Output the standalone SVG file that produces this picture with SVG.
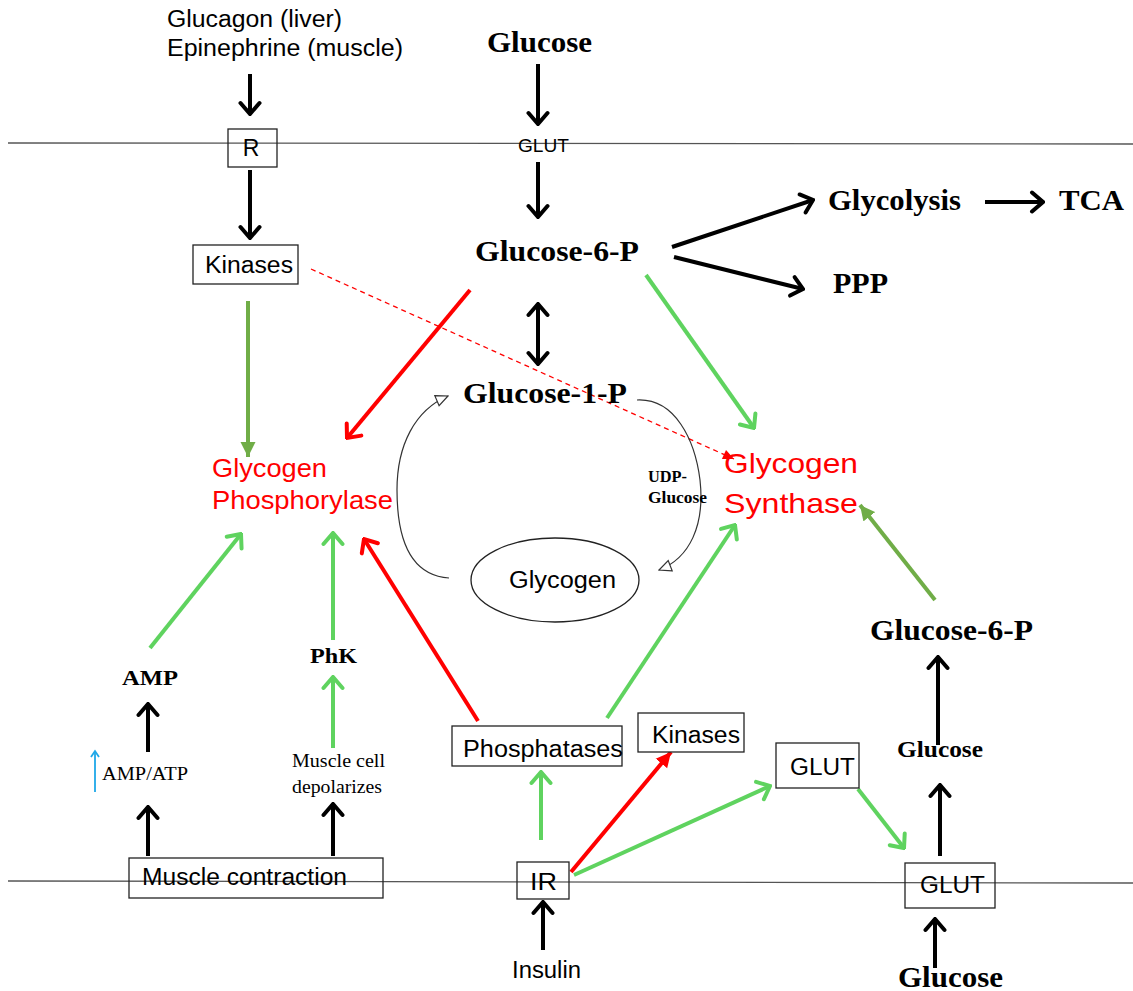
<svg xmlns="http://www.w3.org/2000/svg" width="1133" height="991" viewBox="0 0 1133 991">
<style>
.sans{font-family:"Liberation Sans",Arial,sans-serif;fill:#000}
.serif{font-family:"Liberation Serif","Times New Roman",serif;fill:#000}
.b{font-weight:bold}
.red{fill:#ff0000}
.box{fill:#fff;stroke:#222;stroke-width:1.3}
.mem{stroke:#555;stroke-width:1.3;fill:none}
.k{stroke:#000;stroke-width:4;fill:none}
.g{stroke:#5fd35f;stroke-width:4;fill:none}
.o{stroke:#70ad47;stroke-width:4;fill:none}
.r{stroke:#ff0000;stroke-width:4;fill:none}
.thin{stroke:#333;stroke-width:1.2;fill:none}
</style>
<defs>
<marker id="chk" viewBox="-14 -12 16 24" markerWidth="16" markerHeight="24" refX="0" refY="0" markerUnits="userSpaceOnUse" orient="auto-start-reverse"><path d="M-11,-9.5 L0,0 L-11,9.5" fill="none" stroke="#000" stroke-width="4" stroke-linecap="round"/></marker>
<marker id="chg" viewBox="-14 -12 16 24" markerWidth="16" markerHeight="24" refX="0" refY="0" markerUnits="userSpaceOnUse" orient="auto"><path d="M-11,-9.5 L0,0 L-11,9.5" fill="none" stroke="#5fd35f" stroke-width="4" stroke-linecap="round"/></marker>
<marker id="chr" viewBox="-14 -12 16 24" markerWidth="16" markerHeight="24" refX="0" refY="0" markerUnits="userSpaceOnUse" orient="auto"><path d="M-11,-9.5 L0,0 L-11,9.5" fill="none" stroke="#ff0000" stroke-width="4" stroke-linecap="round"/></marker>
<marker id="chb" viewBox="-8 -6 10 12" markerWidth="10" markerHeight="12" refX="0" refY="0" markerUnits="userSpaceOnUse" orient="auto"><path d="M-6,-4 L0,0 L-6,4" fill="none" stroke="#1fa8e8" stroke-width="1.8"/></marker>
<marker id="trr" viewBox="-15 -8 16 16" markerWidth="16" markerHeight="16" refX="0" refY="0" markerUnits="userSpaceOnUse" orient="auto"><path d="M-15,-7.5 L0,0 L-15,7.5 Z" fill="#ff0000"/></marker>
<marker id="tro" viewBox="-15 -8 16 16" markerWidth="16" markerHeight="16" refX="0" refY="0" markerUnits="userSpaceOnUse" orient="auto"><path d="M-15,-7.5 L0,0 L-15,7.5 Z" fill="#70ad47"/></marker>
<marker id="trs" viewBox="-12 -6 13 12" markerWidth="13" markerHeight="12" refX="0" refY="0" markerUnits="userSpaceOnUse" orient="auto"><path d="M-11,-5 L0,0 L-11,5 Z" fill="#ff0000"/></marker>
<marker id="opn" viewBox="-14 -8 15 16" markerWidth="15" markerHeight="16" refX="0" refY="0" markerUnits="userSpaceOnUse" orient="auto"><path d="M-12,-5.5 L0,0 L-12,5.5 Z" fill="#fff" stroke="#333" stroke-width="1.2"/></marker>
</defs>
<rect width="1133" height="991" fill="#fff"/>
<g id="membranes">
<line class="mem" x1="8" y1="143" x2="1133" y2="144"/>
<line class="mem" x1="8" y1="881" x2="1133" y2="883"/>
</g>
<g id="connectors">
<line class="k" x1="250" y1="74" x2="250" y2="114" marker-end="url(#chk)"/>
<line class="k" x1="250" y1="170" x2="250" y2="238" marker-end="url(#chk)"/>
<line class="k" x1="538" y1="64" x2="538" y2="124" marker-end="url(#chk)"/>
<line class="k" x1="538" y1="162" x2="538" y2="217" marker-end="url(#chk)"/>
<line class="k" x1="672" y1="247" x2="813" y2="200" marker-end="url(#chk)"/>
<line class="k" x1="674" y1="257" x2="803" y2="289" marker-end="url(#chk)"/>
<line class="k" x1="985" y1="202" x2="1043" y2="202" marker-end="url(#chk)"/>
<line class="k" x1="538" y1="304" x2="538" y2="364" marker-start="url(#chk)" marker-end="url(#chk)"/>
<line class="r" x1="470" y1="290" x2="347" y2="438" marker-end="url(#chr)"/>
<line class="g" x1="646" y1="275" x2="754" y2="428" marker-end="url(#chg)"/>
<line x1="311" y1="269" x2="734" y2="459" stroke="#ff0000" stroke-width="1.3" stroke-dasharray="5,4" marker-end="url(#trs)"/>
<line class="o" x1="248" y1="301" x2="248" y2="457" marker-end="url(#tro)"/>
<path class="thin" d="M449,578 C405,575 397,530 397,490 C397,445 415,410 448,396" marker-end="url(#opn)"/>
<path class="thin" d="M637,400 C675,398 695,440 700,480 C705,525 690,558 659,570" marker-end="url(#opn)"/>
<line class="g" x1="150" y1="648" x2="241" y2="534" marker-end="url(#chg)"/>
<line class="g" x1="333" y1="640" x2="333" y2="533" marker-end="url(#chg)"/>
<line class="r" x1="478" y1="721" x2="364" y2="539" marker-end="url(#chr)"/>
<line class="g" x1="607" y1="718" x2="735" y2="525" marker-end="url(#chg)"/>
<line class="o" x1="935" y1="600" x2="860" y2="505" marker-end="url(#tro)"/>
<line class="k" x1="148" y1="752" x2="148" y2="704" marker-end="url(#chk)"/>
<line x1="95" y1="792" x2="95" y2="751" stroke="#1fa8e8" stroke-width="1.8" marker-end="url(#chb)"/>
<line class="k" x1="148" y1="856" x2="148" y2="807" marker-end="url(#chk)"/>
<line class="g" x1="333" y1="748" x2="333" y2="677" marker-end="url(#chg)"/>
<line class="k" x1="333" y1="856" x2="333" y2="804" marker-end="url(#chk)"/>
<line class="g" x1="541" y1="840" x2="541" y2="772" marker-end="url(#chg)"/>
<line x1="571" y1="872" x2="671" y2="752" stroke="#ff0000" stroke-width="4" marker-end="url(#trr)"/>
<line class="g" x1="574" y1="875" x2="770" y2="786" marker-end="url(#chg)"/>
<line class="k" x1="543" y1="950" x2="543" y2="902" marker-end="url(#chk)"/>
<line class="g" x1="858" y1="789" x2="904" y2="848" marker-end="url(#chg)"/>
<line class="k" x1="940" y1="856" x2="940" y2="785" marker-end="url(#chk)"/>
<line class="k" x1="938" y1="745" x2="938" y2="657" marker-end="url(#chk)"/>
<line class="k" x1="935" y1="968" x2="935" y2="919" marker-end="url(#chk)"/>
</g>
<g id="hormones"><text class="sans" x="167" y="27" font-size="23" textLength="175" lengthAdjust="spacingAndGlyphs">Glucagon (liver)</text><text class="sans" x="167" y="56" font-size="23" textLength="236" lengthAdjust="spacingAndGlyphs">Epinephrine (muscle)</text></g>
<g id="R"><rect class="box" x="228" y="129" width="49" height="38" fill-opacity="0"/><text class="sans" x="251" y="156" font-size="23" text-anchor="middle">R</text></g>
<g id="kinases-top"><rect class="box" x="193" y="245" width="105" height="39"/><text class="sans" x="205" y="273" font-size="23" textLength="88" lengthAdjust="spacingAndGlyphs">Kinases</text></g>
<g id="glucose-top"><text class="serif b" x="487" y="52" font-size="30" textLength="105" lengthAdjust="spacingAndGlyphs">Glucose</text></g>
<g id="glut-top"><text class="sans" x="518" y="152" font-size="18" textLength="51" lengthAdjust="spacingAndGlyphs">GLUT</text></g>
<g id="g6p"><text class="serif b" x="475" y="261" font-size="30" textLength="164" lengthAdjust="spacingAndGlyphs">Glucose-6-P</text></g>
<g id="glycolysis"><text class="serif b" x="828" y="210" font-size="30" textLength="133" lengthAdjust="spacingAndGlyphs">Glycolysis</text></g>
<g id="tca"><text class="serif b" x="1059" y="210" font-size="30" textLength="65" lengthAdjust="spacingAndGlyphs">TCA</text></g>
<g id="ppp"><text class="serif b" x="833" y="293" font-size="30" textLength="55" lengthAdjust="spacingAndGlyphs">PPP</text></g>
<g id="g1p"><text class="serif b" x="463" y="403" font-size="30" textLength="164" lengthAdjust="spacingAndGlyphs">Glucose-1-P</text></g>
<g id="phosphorylase"><text class="sans red" x="212" y="477" font-size="25" textLength="115" lengthAdjust="spacingAndGlyphs">Glycogen</text><text class="sans red" x="212" y="509" font-size="25" textLength="181" lengthAdjust="spacingAndGlyphs">Phosphorylase</text></g>
<g id="synthase"><text class="sans red" x="724" y="473" font-size="28" textLength="134" lengthAdjust="spacingAndGlyphs">Glycogen</text><text class="sans red" x="724" y="513" font-size="28" textLength="134" lengthAdjust="spacingAndGlyphs">Synthase</text></g>
<g id="udp"><text class="serif b" x="648" y="482" font-size="16" textLength="39" lengthAdjust="spacingAndGlyphs">UDP-</text><text class="serif b" x="648" y="503" font-size="16" textLength="59" lengthAdjust="spacingAndGlyphs">Glucose</text></g>
<g id="glycogen"><ellipse cx="555" cy="580" rx="84" ry="42" fill="none" stroke="#222" stroke-width="1.3"/><text class="sans" x="509" y="588" font-size="23" textLength="107" lengthAdjust="spacingAndGlyphs">Glycogen</text></g>
<g id="amp"><text class="serif b" x="122" y="685" font-size="21" textLength="56" lengthAdjust="spacingAndGlyphs">AMP</text></g>
<g id="ampatp"><text class="serif" x="102" y="780" font-size="19" textLength="86" lengthAdjust="spacingAndGlyphs">AMP/ATP</text></g>
<g id="phk"><text class="serif b" x="310" y="663" font-size="21" textLength="47" lengthAdjust="spacingAndGlyphs">PhK</text></g>
<g id="depol"><text class="serif" x="292" y="767" font-size="19" textLength="93" lengthAdjust="spacingAndGlyphs">Muscle  cell</text><text class="serif" x="292" y="793" font-size="19" textLength="90" lengthAdjust="spacingAndGlyphs">depolarizes</text></g>
<g id="muscle"><rect class="box" x="129" y="858" width="254" height="40" fill-opacity="0"/><text class="sans" x="142" y="885" font-size="23" textLength="205" lengthAdjust="spacingAndGlyphs">Muscle contraction</text></g>
<g id="phosphatases"><rect class="box" x="452" y="726" width="170" height="40"/><text class="sans" x="463" y="757" font-size="23" textLength="160" lengthAdjust="spacingAndGlyphs">Phosphatases</text></g>
<g id="kinases-bot"><rect class="box" x="638" y="713" width="106" height="39"/><text class="sans" x="652" y="743" font-size="23" textLength="88" lengthAdjust="spacingAndGlyphs">Kinases</text></g>
<g id="IR"><rect class="box" x="517" y="862" width="52" height="37" fill-opacity="0"/><text class="sans" x="530" y="890" font-size="23" textLength="27" lengthAdjust="spacingAndGlyphs">IR</text></g>
<g id="insulin"><text class="sans" x="512" y="978" font-size="23" textLength="69" lengthAdjust="spacingAndGlyphs">Insulin</text></g>
<g id="glut-mid"><rect class="box" x="776" y="743" width="83" height="45"/><text class="sans" x="790" y="775" font-size="23" textLength="65" lengthAdjust="spacingAndGlyphs">GLUT</text></g>
<g id="glut-bot"><rect class="box" x="905" y="863" width="90" height="45" fill-opacity="0"/><text class="sans" x="920" y="893" font-size="23" textLength="65" lengthAdjust="spacingAndGlyphs">GLUT</text></g>
<g id="glucose-mid"><text class="serif b" x="897" y="757" font-size="23" textLength="86" lengthAdjust="spacingAndGlyphs">Glucose</text></g>
<g id="g6p-right"><text class="serif b" x="870" y="640" font-size="30" textLength="163" lengthAdjust="spacingAndGlyphs">Glucose-6-P</text></g>
<g id="glucose-bot"><text class="serif b" x="898" y="987" font-size="30" textLength="105" lengthAdjust="spacingAndGlyphs">Glucose</text></g>
</svg>
